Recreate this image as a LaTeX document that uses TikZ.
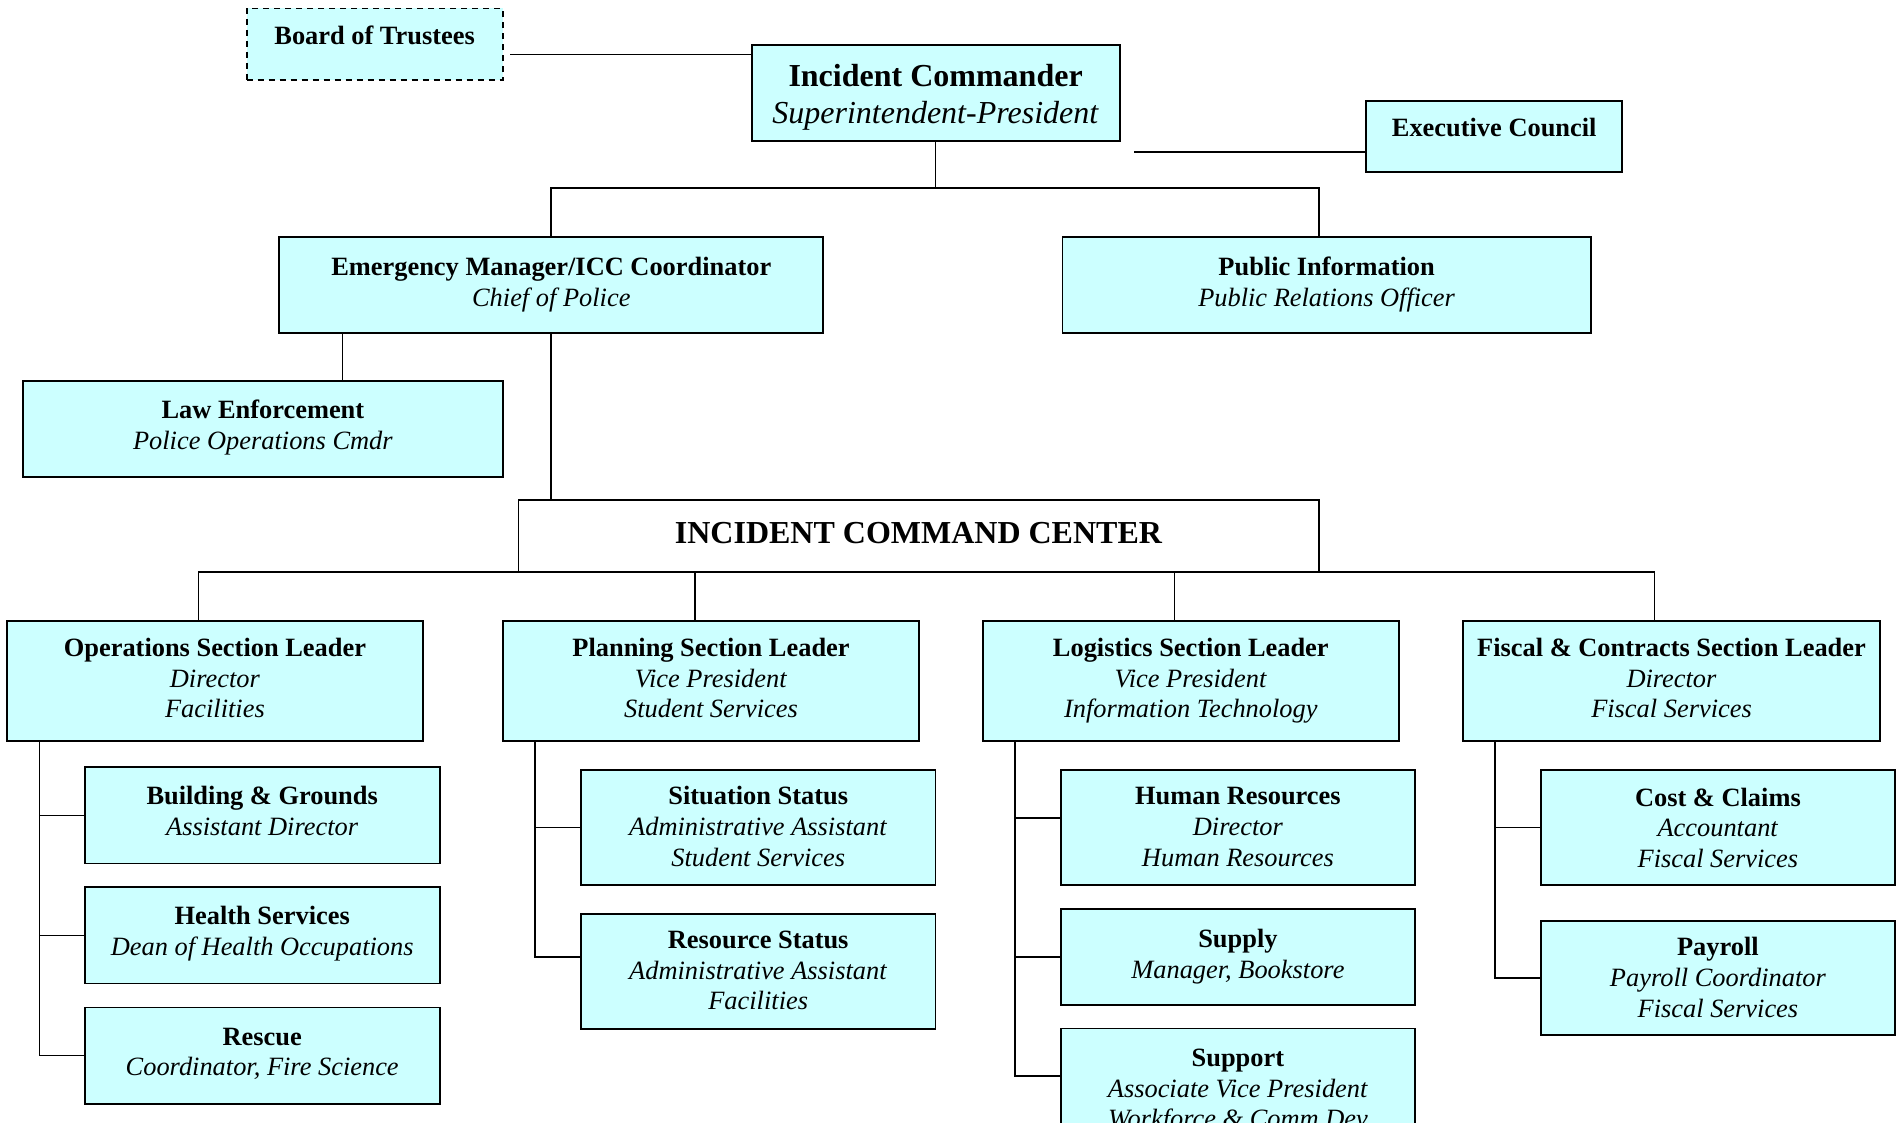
\documentclass[tikz,border=0pt]{standalone}
\usepackage{fontspec}
\setmainfont{Liberation Serif}
\definecolor{boxcyan}{HTML}{CCFFFF}
\tikzset{
  orgbox/.style={draw=black, line width=0.95pt, fill=boxcyan, inner sep=0pt, align=center,
    font=\fontsize{13.2}{15.3}\selectfont},
  bigbox/.style={orgbox, font=\fontsize{16}{18.2}\selectfont},
  link/.style={draw=black, line width=0.85pt},
}
\newcommand\ttl[1]{\textbf{#1}\strut}
\newcommand\ttlr[2]{\textbf{#1}\strut\rule{0pt}{#2}}
\newcommand\sub[1]{\textit{#1}\strut}
\newcommand\oneline[1]{\textbf{#1}\rule[-10.7pt]{0pt}{10.7pt}\strut}
\begin{document}
\begin{tikzpicture}[x=0.5pt,y=-0.5pt]
\useasboundingbox (0,0) rectangle (1904,1123);
\clip (0,0) rectangle (1904,1123);

% top level
\node[bigbox, minimum width=184pt, minimum height=48pt] (ic) at (935.6,92.9)
  {\ttlr{Incident Commander}{17.5pt}\\\sub{Superintendent-President}};
\node[orgbox, dash pattern=on 3pt off 2.5pt, minimum width=128pt, minimum height=35.8pt] (bot) at (374.6,44.3)
  {\oneline{Board of Trustees}};
\node[orgbox, minimum width=128.2pt, minimum height=35.8pt] (ec) at (1494.2,136.6)
  {\oneline{Executive Council}};

\node[orgbox, minimum width=272pt, minimum height=48pt] (em) at (551.3,284.8)
  {\ttl{Emergency Manager/ICC Coordinator}\\\sub{Chief of Police}};
\node[orgbox, minimum width=264.1pt, minimum height=48pt] (pi) at (1326.6,284.8)
  {\ttl{Public Information}\\\sub{Public Relations Officer}};
\node[orgbox, minimum width=239.8pt, minimum height=48pt] (le) at (262.9,429.2)
  {\ttl{Law Enforcement}\\\sub{Police Operations Cmdr}\rule[-6pt]{0pt}{6pt}};

\node[bigbox, fill=white, minimum width=400.1pt, minimum height=35.8pt] (icc) at (918.6,536.1)
  {\ttl{INCIDENT COMMAND CENTER}};

% sections
\node[orgbox, minimum width=207.7pt, minimum height=60.2pt] (ops) at (214.9,680.9)
  {\ttl{Operations Section Leader}\\\sub{Director}\\\sub{Facilities}};
\node[orgbox, minimum width=208.3pt, minimum height=60.2pt] (plan) at (711,680.9)
  {\ttl{Planning Section Leader}\\\sub{Vice President}\\\sub{Student Services}};
\node[orgbox, minimum width=208.2pt, minimum height=60.2pt] (log) at (1190.8,680.9)
  {\ttl{Logistics Section Leader}\\\sub{Vice President}\\\sub{Information Technology}};
\node[orgbox, minimum width=208.3pt, minimum height=60.2pt] (fis) at (1671.5,680.9)
  {\ttl{Fiscal \& Contracts Section Leader}\\\sub{Director}\\\sub{Fiscal Services}};

% operations units
\node[orgbox, minimum width=177.5pt, minimum height=48.1pt] (bg) at (262.2,815.4)
  {\ttl{Building \& Grounds}\\\sub{Assistant Director}\rule[-6pt]{0pt}{6pt}};
\node[orgbox, minimum width=177.5pt, minimum height=48.1pt] (hs) at (262.2,935.4)
  {\ttl{Health Services}\\\sub{Dean of Health Occupations}\rule[-6pt]{0pt}{6pt}};
\node[orgbox, minimum width=177.5pt, minimum height=48.1pt] (rs) at (262.2,1055.6)
  {\ttl{Rescue}\\\sub{Coordinator, Fire Science}\rule[-6pt]{0pt}{6pt}};

% planning units
\node[orgbox, minimum width=177.3pt, minimum height=57.7pt] (sit) at (758.2,827.6)
  {\ttlr{Situation Status}{12.5pt}\\\sub{Administrative Assistant}\\\sub{Student Services}};
\node[orgbox, minimum width=177.3pt, minimum height=57.5pt] (res) at (758.2,971.3)
  {\ttlr{Resource Status}{12.5pt}\\\sub{Administrative Assistant}\\\sub{Facilities}};

% logistics units
\node[orgbox, minimum width=176.9pt, minimum height=57.7pt] (hr) at (1237.9,827.5)
  {\ttlr{Human Resources}{12.5pt}\\\sub{Director}\\\sub{Human Resources}};
\node[orgbox, minimum width=176.9pt, minimum height=47.8pt] (sup) at (1237.9,956.9)
  {\ttl{Supply}\\\sub{Manager, Bookstore}};
\node[orgbox, minimum width=176.9pt, minimum height=57.7pt] (spt) at (1237.9,1086.2)
  {\ttlr{Support}{15.5pt}\\\sub{Associate Vice President}\\\sub{Workforce \& Comm Dev}};

% fiscal units
\node[orgbox, minimum width=177.1pt, minimum height=57.7pt] (cc) at (1717.9,827.4)
  {\ttlr{Cost \& Claims}{14pt}\\\sub{Accountant}\\\sub{Fiscal Services}};
\node[orgbox, minimum width=177.1pt, minimum height=57.3pt] (pay) at (1717.9,978)
  {\ttlr{Payroll}{13pt}\\\sub{Payroll Coordinator}\\\sub{Fiscal Services}};

% connectors: top
\coordinate (bt) at (510,54.6);
\draw[link] (bt) -- (bt -| ic.west);
\coordinate (ecl) at (1134.4,152);
\draw[link] (ecl) -- (ecl -| ec.west);
\coordinate (pid) at (1318.7,188.2);
\draw[link] (ic.south) -- (ic.south |- pid);
\draw[link] (em.north) |- (pid) -- (pid |- pi.north);
\coordinate (lex) at (342.4,0);
\draw[link] (em.south -| lex) -- (le.north -| lex);
\draw[link] (em.south) -- (em.south |- icc.north);

% connectors: sections
\coordinate (d1) at (198.4,571.9);
\coordinate (d2) at (694.8,571.9);
\coordinate (d3) at (1174.6,571.9);
\coordinate (d4) at (1654.6,571.9);
\draw[link] (d1) -- (d4);
\draw[link] (d1) -- (d1 |- ops.north);
\draw[link] (d2) -- (d2 |- plan.north);
\draw[link] (d3) -- (d3 |- log.north);
\draw[link] (d4) -- (d4 |- fis.north);

% connectors: units
\coordinate (ov) at (39.4,0);
\draw[link] (ops.south -| ov) |- (rs.west);
\draw[link] (ov |- bg.west) -- (bg.west);
\draw[link] (ov |- hs.west) -- (hs.west);

\coordinate (pv) at (535.3,0);
\coordinate (resw) at ([yshift=7.25pt]res.west);
\draw[link] (plan.south -| pv) |- (resw);
\draw[link] (pv |- sit.west) -- (sit.west);

\coordinate (lv) at (1015,0);
\coordinate (hrw) at ([yshift=4.75pt]hr.west);
\coordinate (sptw) at ([yshift=5pt]spt.west);
\draw[link] (log.south -| lv) |- (sptw);
\draw[link] (lv |- hrw) -- (hrw);
\draw[link] (lv |- sup.west) -- (sup.west);

\coordinate (fv) at (1494.9,0);
\draw[link] (fis.south -| fv) |- (pay.west);
\draw[link] (fv |- cc.west) -- (cc.west);
\end{tikzpicture}
\end{document}
